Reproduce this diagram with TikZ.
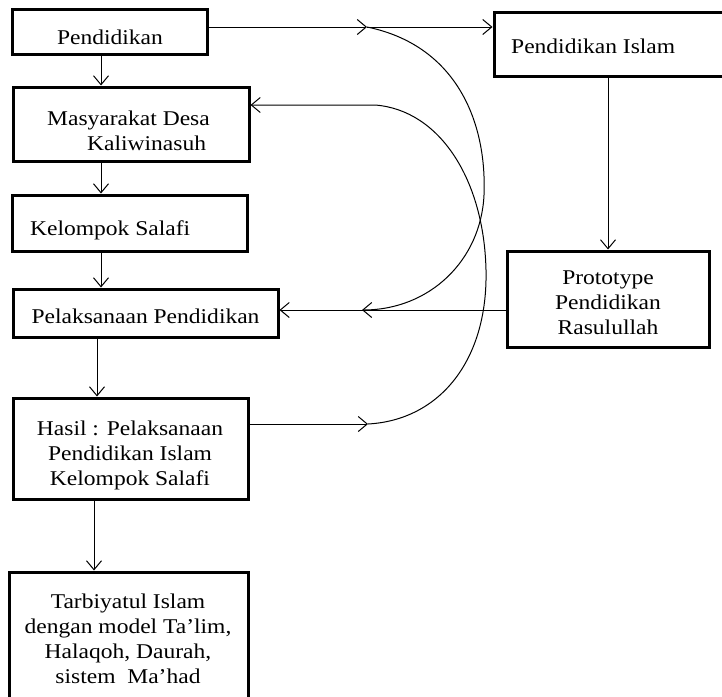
\documentclass[tikz,border=0pt]{standalone}
\usepackage{fontspec}
\setmainfont[FakeStretch=1.12]{Liberation Serif}
\usetikzlibrary{positioning, arrows.meta}

\begin{document}
\begin{tikzpicture}[
    x=1pt, y=-1pt,
    every node/.style={font=\fontsize{21}{25}\selectfont},
    box/.style={draw, line width=3pt, inner sep=0pt},
    txt/.style={inner sep=0pt, align=center},
    flow/.style={-{Straight Barb[length=9pt, width=15pt]}, line width=1pt},
]
    \path[use as bounding box] (0,0) rectangle (722,696);
    \clip (0,0) rectangle (722,696);

    % 1. Left column
    \node[box, minimum width=195pt, minimum height=45pt] (pend_box) at (109.5,31.5) {};
    \node[txt] (pend_txt) at (110,37) {Pendidikan};

    \node[box, minimum width=236pt, minimum height=74pt] (masy_box) at (131,124) {};
    \node[txt, anchor=west, align=left] (masy_txt) at (47,131) {Masyarakat Desa\\\hspace*{40pt}Kaliwinasuh};

    \node[box, minimum width=235pt, minimum height=56pt] (salafi_box) at (129.5,223) {};
    \node[txt, anchor=west] (salafi_txt) at (30,230) {Kelompok Salafi};

    \node[box, minimum width=265pt, minimum height=48pt] (pel_box) at (145.5,313) {};
    \node[txt] (pel_txt) at (145.5,316) {Pelaksanaan Pendidikan};

    \node[box, minimum width=235pt, minimum height=101pt] (hasil_box) at (130.5,448.5) {};
    \node[txt] (hasil_txt) at (130,455) {Hasil : Pelaksanaan\\Pendidikan Islam\\Kelompok Salafi};

    \node[box, minimum width=239pt, minimum height=148pt] (tarb_box) at (128.5,646) {};
    \node[txt] (tarb_txt) at (128,638.5) {Tarbiyatul Islam\\dengan model Ta’lim,\\Halaqoh, Daurah,\\sistem\ \ Ma’had};

    % 2. Right column
    \node[box, minimum width=236pt, minimum height=64pt] (islam_box) at (612,44) {};
    \node[txt, anchor=west] (islam_txt) at (511,46) {Pendidikan Islam};

    \node[box, minimum width=202pt, minimum height=96pt] (proto_box) at (608,299) {};
    \node[txt] (proto_txt) at (608,303) {Prototype\\Pendidikan\\Rasulullah};

    % --- Connections ---
    \coordinate (col_a) at (101,0);
    \coordinate (col_b) at (97,0);
    \coordinate (col_c) at (94,0);
    \coordinate (top_tip) at (367,27);
    \coordinate (mid_tip) at (362,310);
    \coordinate (bot_tip) at (368,424);
    \coordinate (masy_tip) at (375,105);

    % main chain
    \draw[flow] (pend_box.south -| col_a) -- (masy_box.north -| col_a);
    \draw[flow] (masy_box.south -| col_a) -- (salafi_box.north -| col_a);
    \draw[flow] (salafi_box.south -| col_a) -- (pel_box.north -| col_a);
    \draw[flow] (pel_box.south -| col_b) -- (hasil_box.north -| col_b);
    \draw[flow] (hasil_box.south -| col_c) -- (tarb_box.north -| col_c);

    % Pendidikan to Pendidikan Islam
    \draw[flow] (pend_box.east |- top_tip) -- (top_tip);
    \draw[flow] (top_tip) -- (islam_box.west |- top_tip);
    \draw[flow] (islam_box.south -| proto_box.north) -- (proto_box.north);
    \draw[flow] (proto_box.west |- mid_tip) -- (pel_box.east |- mid_tip);

    % Hasil out
    \draw[flow] (hasil_box.east |- bot_tip) -- (bot_tip);

    % curves
    \draw[flow] (top_tip) .. controls (455,45) and (487,120) .. (484,195)
        .. controls (481,260) and (430,310) .. (mid_tip);
    \draw[flow] (bot_tip) .. controls (440,420) and (488,360) .. (486,270)
        .. controls (484,180) and (440,110) .. (masy_tip) -- (masy_box.east |- masy_tip);

\end{tikzpicture}
\end{document}
